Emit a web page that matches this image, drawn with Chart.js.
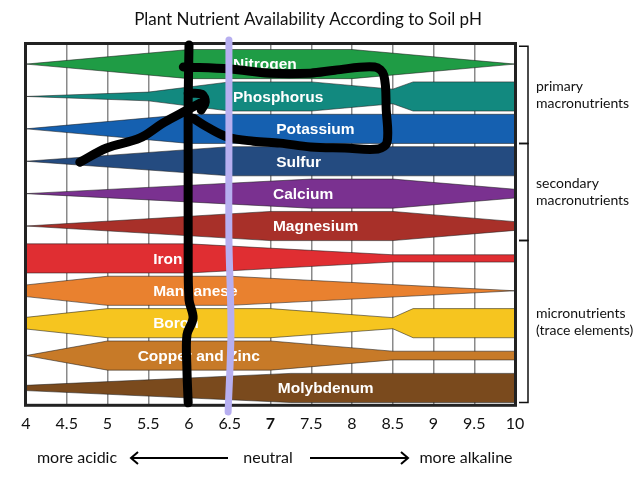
<!DOCTYPE html>
<html><head><meta charset="utf-8">
<script src="https://cdn.jsdelivr.net/npm/chart.js@4/dist/chart.umd.min.js"></script>
<style>html,body{margin:0;padding:0;background:#fff}canvas{display:block}</style>
</head><body>
<canvas id="c" width="640" height="480"></canvas>
<script>
// ---------- data ----------
const chartTitle = 'Plant Nutrient Availability According to Soil pH';
const phTicks = [4, 4.5, 5, 5.5, 6, 6.5, 7, 7.5, 8, 8.5, 9, 9.5, 10];
const nutrients = ['Nitrogen', 'Phosphorus', 'Potassium', 'Sulfur', 'Calcium', 'Magnesium',
                   'Iron', 'Manganese', 'Boron', 'Copper and Zinc', 'Molybdenum'];
// relative availability (band thickness 0..1) at pH breakpoints
const nitrogenPH = [4, 6, 8, 10];                    const nitrogenAvail = [0, 1, 1, 0];
const phosphorusPH = [4, 5.5, 6.5, 7.5, 8.5, 8.75, 10]; const phosphorusAvail = [0, 0.3, 1, 1, 0.5, 1, 1];
const potassiumPH = [4, 6, 10];                      const potassiumAvail = [0, 1, 1];
const sulfurPH = [4, 6.5, 10];                       const sulfurAvail = [0, 1, 1];
const calciumPH = [4, 7.5, 8.5, 10];                 const calciumAvail = [0, 1, 1, 0.3];
const magnesiumPH = [4, 7, 8.5, 10];                 const magnesiumAvail = [0, 1, 1, 0.3];
const ironPH = [4, 6, 8.5, 10];                      const ironAvail = [1, 1, 0.25, 0.25];
const manganesePH = [4, 5, 6.5, 10];                 const manganeseAvail = [0.4, 1, 1, 0];
const boronPH = [4, 5, 7, 8.5, 8.75, 10];            const boronAvail = [0.4, 1, 1, 0.38, 1, 1];
const copperZincPH = [4, 5, 7, 8.5, 10];             const copperZincAvail = [0, 1, 1, 0.3, 0.3];
const molybdenumPH = [4, 7.25, 10];                  const molybdenumAvail = [0.18, 1, 1];

const profilesPH = [nitrogenPH, phosphorusPH, potassiumPH, sulfurPH, calciumPH, magnesiumPH,
                    ironPH, manganesePH, boronPH, copperZincPH, molybdenumPH];
const profilesAvail = [nitrogenAvail, phosphorusAvail, potassiumAvail, sulfurAvail, calciumAvail, magnesiumAvail,
                       ironAvail, manganeseAvail, boronAvail, copperZincAvail, molybdenumAvail];

// group brackets (rows covered)
const groupNames = [['primary', 'macronutrients'], ['secondary', 'macronutrients'], ['micronutrients', '(trace elements)']];
const groupFirstRow = [0, 3, 6];
const groupLastRow = [2, 5, 10];

// hand-drawn overlay strokes as [pH, row]
const strokeVertical = [[6.0,-0.59],[5.99,1.11],[5.99,2.96],[5.99,5.43],[6.0,7.28],[6.05,7.84],[5.975,8.36],[5.975,9.44],[5.99,10.46]];
const strokeLoop = [[5.93,0.09],[6.5,0.15],[6.99,0.28],[7.49,0.28],[7.79,0.19],[8.28,0.09],[8.39,0.34],[8.42,1.42],[8.43,2.41],
                    [8.32,2.62],[7.91,2.59],[7.49,2.56],[7.12,2.44],[6.79,2.38],[6.47,2.25],[6.22,1.94],[6.05,1.67]];
const strokeDiagonal = [[4.66,3.03],[4.99,2.59],[5.40,2.28],[5.68,1.82],[5.93,1.48],[6.14,1.20]];
const strokeHook = [[5.99,0.9],[6.16,0.93],[6.2,1.17],[6.15,1.42]];
const strokeNeutral = [[6.49,-0.74],[6.49,2.5],[6.49,5.43],[6.515,8.21],[6.48,10.74]];

// ---------- styles ----------
const bandColors = ['#1f9c45', '#12897f', '#1560b0', '#244b80', '#7a3190', '#a83029',
                    '#e02e32', '#e9812f', '#f6c51f', '#c77a28', '#7a4a1d'];
const labelPH = [6.54, 6.54, 7.07, 7.07, 7.03, 7.03, 5.56, 5.56, 5.56, 5.37, 7.09];
const HALF = 0.45;

const datasets = [];
nutrients.forEach((n, i) => {
  const ph = profilesPH[i], av = profilesAvail[i];
  datasets.push({
    label: n + ' upper', data: ph.map((x, k) => ({x, y: i - av[k] * HALF})),
    borderColor: 'rgba(30,30,30,0.55)', borderWidth: 1, pointRadius: 0, fill: false, order: 10, tension: 0
  });
  datasets.push({
    label: n, data: ph.map((x, k) => ({x, y: i + av[k] * HALF})),
    borderColor: 'rgba(30,30,30,0.55)', borderWidth: 1, pointRadius: 0,
    fill: '-1', backgroundColor: bandColors[i], order: 10, tension: 0
  });
});
function stroke(pts, color, w, order) {
  return {label: 'mark', isMark: true, data: pts.map(p => ({x: p[0], y: p[1]})),
    borderColor: color, borderWidth: w, pointRadius: 0, fill: false, tension: 0.35,
    borderCapStyle: 'round', borderJoinStyle: 'round', clip: false, order};
}
datasets.push(stroke(strokeVertical, '#000', 9, 2));
datasets.push(stroke(strokeLoop, '#000', 9, 2));
datasets.push(stroke(strokeDiagonal, '#000', 9, 2));
datasets.push(stroke(strokeHook, '#000', 9, 2));
datasets.push(stroke(strokeNeutral, '#b7aff0', 7, 1));

function drawInner(chart) {
  const ctx = chart.ctx, a = chart.chartArea, xs = chart.scales.x, ys = chart.scales.y;
  ctx.save();
  ctx.fillStyle = '#fff';
  ctx.font = 'bold 15.5px "Liberation Sans", Arial, sans-serif';
  ctx.textAlign = 'left'; ctx.textBaseline = 'middle';
  nutrients.forEach((n, i) => {
    ctx.fillText(n, xs.getPixelForValue(labelPH[i]), ys.getPixelForValue(i) + 1);
  });
  ctx.strokeStyle = '#222'; ctx.lineWidth = 3;
  ctx.strokeRect(a.left - 0.5, a.top - 0.5, a.right - a.left + 1, a.bottom - a.top + 1);
  ctx.restore();
}

const decor = {
  id: 'decor',
  beforeDraw(chart) { chart.$innerDone = false; },
  beforeDatasetDraw(chart, args) {
    if (!chart.$innerDone && chart.data.datasets[args.index].isMark) { drawInner(chart); chart.$innerDone = true; }
  },
  afterDatasetsDraw(chart) { if (!chart.$innerDone) { drawInner(chart); chart.$innerDone = true; } },
  afterDraw(chart) {
    const ctx = chart.ctx, a = chart.chartArea, ys = chart.scales.y;
    ctx.save();
    // title
    ctx.fillStyle = '#111';
    ctx.font = '17px Lato, "Open Sans", sans-serif';
    ctx.textAlign = 'center'; ctx.textBaseline = 'middle';
    ctx.fillText(chartTitle, 308, 20);
    // brackets
    ctx.strokeStyle = '#111'; ctx.lineWidth = 1.5;
    const bx = a.right + 13;
    groupNames.forEach((g, k) => {
      const y1 = ys.getPixelForValue(groupFirstRow[k] - 0.55);
      const y2 = ys.getPixelForValue(groupLastRow[k] + 0.45);
      ctx.beginPath();
      ctx.moveTo(a.right + 4, y1); ctx.lineTo(bx, y1); ctx.lineTo(bx, y2); ctx.lineTo(a.right + 4, y2);
      ctx.stroke();
      const mid = (y1 + y2) / 2;
      ctx.font = '14px Lato, "Open Sans", sans-serif';
      ctx.textAlign = 'left';
      ctx.fillText(g[0], bx + 8, mid - 8.5);
      ctx.fillText(g[1], bx + 8, mid + 8.5);
    });
    // bottom direction labels
    const yb = 458;
    ctx.font = '16px Lato, "Open Sans", sans-serif';
    ctx.textAlign = 'center';
    ctx.fillText('more acidic', 77, yb);
    ctx.fillText('neutral', 268, yb);
    ctx.fillText('more alkaline', 466, yb);
    ctx.lineWidth = 2; ctx.strokeStyle = '#000';
    ctx.beginPath();
    ctx.moveTo(228, yb); ctx.lineTo(131, yb);
    ctx.moveTo(138, yb - 6); ctx.lineTo(131, yb); ctx.lineTo(138, yb + 6);
    ctx.moveTo(310, yb); ctx.lineTo(408, yb);
    ctx.moveTo(401, yb - 6); ctx.lineTo(408, yb); ctx.lineTo(401, yb + 6);
    ctx.stroke();
    ctx.restore();
  }
};

new Chart(document.getElementById('c'), {
  type: 'line',
  data: {datasets},
  options: {
    responsive: false, animation: false, devicePixelRatio: 1,
    layout: {padding: {left: 26, right: 125, top: 44, bottom: 38}},
    plugins: {legend: {display: false}, tooltip: {enabled: false}, title: {display: false}},
    scales: {
      x: {
        type: 'linear', min: 4, max: 10,
        afterBuildTicks: axis => { axis.ticks = phTicks.map(v => ({value: v})); },
        ticks: {
          color: '#111', padding: 9, autoSkip: false, maxRotation: 0,
          callback: v => String(v),
          font: c => ({family: 'Lato, "Open Sans", sans-serif', size: 16,
                       weight: (c.tick && c.tick.value === 7) ? 'bold' : 'normal'})
        },
        grid: {color: '#8a8a8a', lineWidth: 1.5, drawTicks: false},
        border: {display: false}
      },
      y: {type: 'linear', min: -0.62, max: 10.52, reverse: true, display: false}
    }
  },
  plugins: [decor]
});
</script>
</body></html>
